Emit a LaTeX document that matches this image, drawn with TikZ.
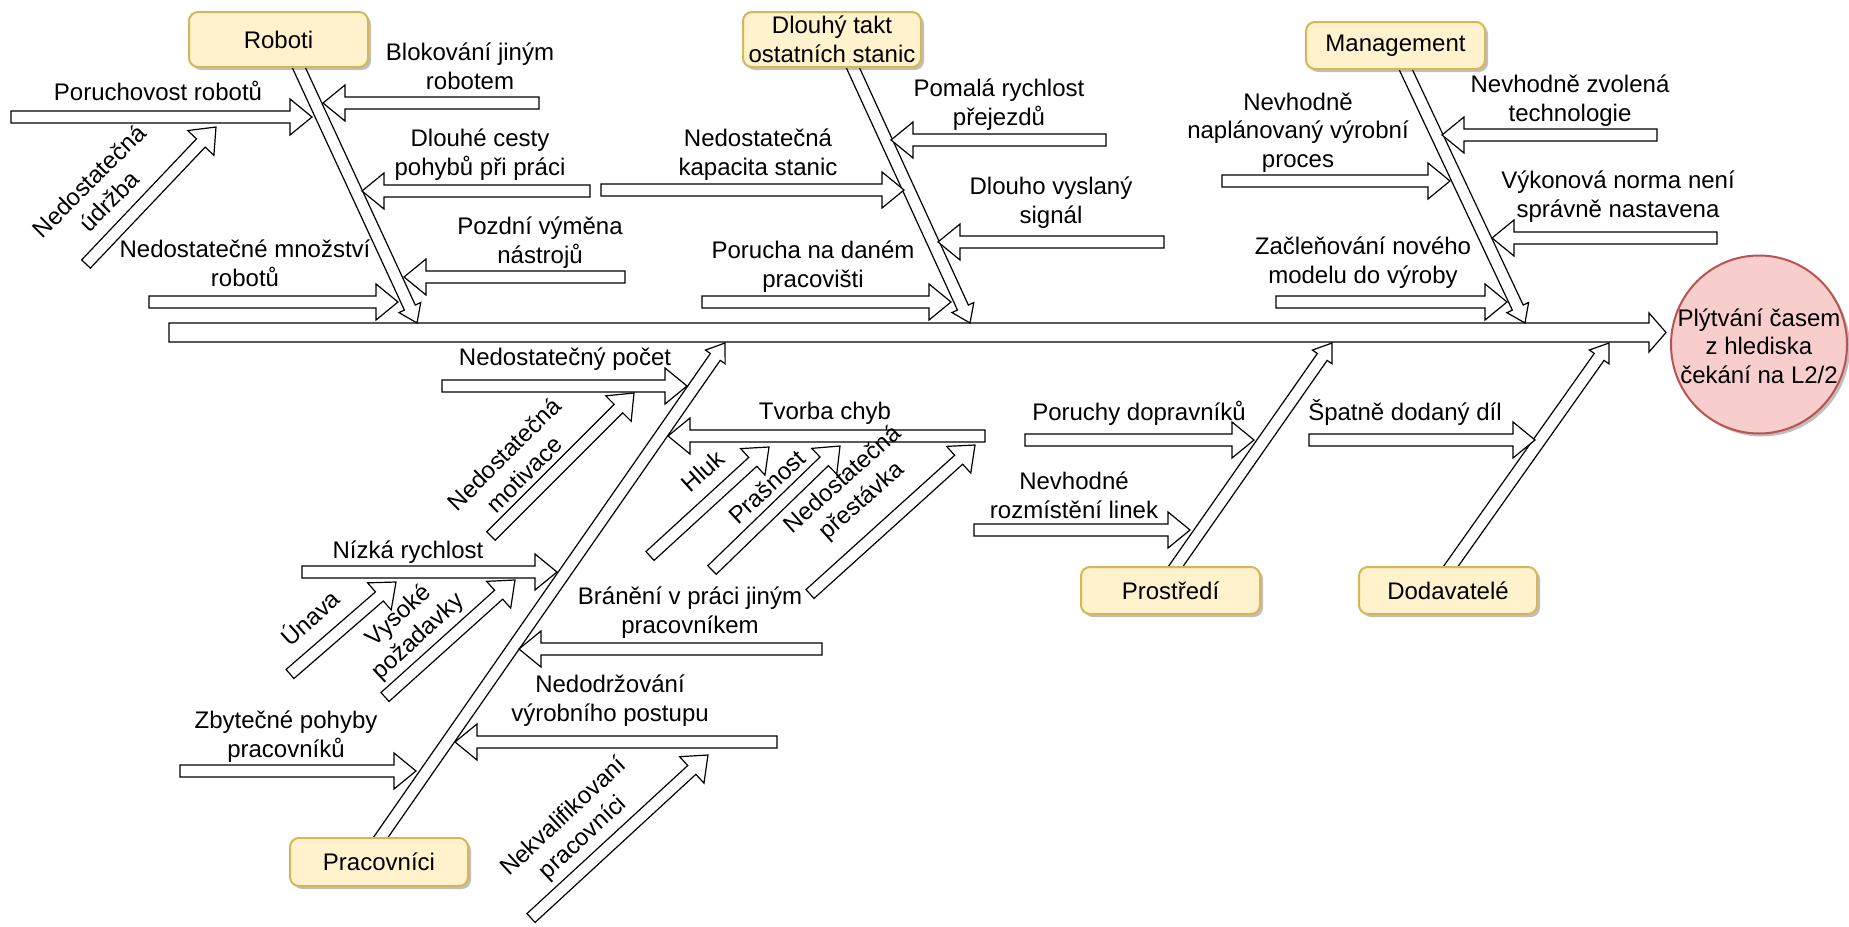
\documentclass[tikz,border=0pt]{standalone}
\usepackage{fontspec}
\setmainfont{Liberation Sans}
\usetikzlibrary{calc,shadows}

\definecolor{catfill}{HTML}{FFF2CC}
\definecolor{catline}{HTML}{D6B656}
\definecolor{effill}{HTML}{F8CECC}
\definecolor{efline}{HTML}{B85450}

\newcommand{\labelfont}{\fontsize{24pt}{28.5pt}\selectfont}

% Hollow block arrow from coordinate #1 to coordinate #2:
% #3 shaft half-width, #4 head half-width, #5 head length (pt)
\newcommand{\blockarrow}[5]{%
  \pgfpointdiff{\pgfpointanchor{#1}{center}}{\pgfpointanchor{#2}{center}}%
  \pgfgetlastxy{\baDX}{\baDY}%
  \pgfmathsetmacro{\baAng}{atan2(\baDY,\baDX)}%
  \pgfmathsetmacro{\baLen}{veclen(\baDX,\baDY)}%
  \pgfmathsetmacro{\baBase}{\baLen-#5}%
  \draw[hollow, shift={(#1)}, rotate=\baAng, x=1pt, y=1pt]
    (0,#3) -- (\baBase,#3) -- (\baBase,#4) -- (\baLen,0)
    -- (\baBase,-#4) -- (\baBase,-#3) -- (0,-#3) -- cycle;
}
\newcommand{\spinearrow}[2]{\blockarrow{#1}{#2}{9.5}{19.5}{17}}
\newcommand{\bonearrow}[2]{\blockarrow{#1}{#2}{6}{12}{17}}
\newcommand{\causearrow}[2]{\blockarrow{#1}{#2}{6}{18}{22}}

\tikzset{
  hollow/.style={draw=black, fill=white, line width=1.2pt, line join=miter},
  boxshadow/.style={drop shadow={shadow xshift=3pt, shadow yshift=-3pt, opacity=0.25, fill=black}},
  category/.style={draw=catline, fill=catfill, line width=2pt, rounded corners=9pt,
    inner sep=0pt, align=center, font=\labelfont, boxshadow},
  lbl/.style={inner sep=0pt, align=center, font=\labelfont, yshift=-2.5pt,
    execute at begin node=\strut, execute at end node=\strut},
  rlbl/.style={inner sep=0pt, align=center, font=\labelfont,
    execute at begin node=\strut, execute at end node=\strut},
}

\begin{document}
\begin{tikzpicture}[x=1pt, y=-1pt]
\fill[white] (0,0) rectangle (1849,926);
\useasboundingbox (0,0) rectangle (1849,926);

% ---------- spine ----------
\coordinate (spS) at (169,332.5);
\coordinate (spE) at (1666,332.5);
\spinearrow{spS}{spE}

% ---------- main bones ----------
\coordinate (rbS) at (296.7,63);   \coordinate (rbE) at (417,323);
\coordinate (tbS) at (850.7,63);   \coordinate (tbE) at (970,323);
\coordinate (mbS) at (1403.6,65);  \coordinate (mbE) at (1525,323);
\coordinate (pbS) at (377.5,842);  \coordinate (pbE) at (725,343);
\coordinate (sbS) at (1172.5,571); \coordinate (sbE) at (1332,343);
\coordinate (dbS) at (1447.5,571); \coordinate (dbE) at (1609,343);
\bonearrow{rbS}{rbE}
\bonearrow{tbS}{tbE}
\bonearrow{mbS}{mbE}
\bonearrow{pbS}{pbE}
\bonearrow{sbS}{sbE}
\bonearrow{dbS}{dbE}

% ---------- Roboti ----------
\coordinate (r1S) at (11,117);   \coordinate (r1E) at (312,117);
\coordinate (r2S) at (539,103);  \coordinate (r2E) at (323,103);
\coordinate (r3S) at (86,264);   \coordinate (r3E) at (216,127);
\coordinate (r4S) at (590,191);  \coordinate (r4E) at (362,191);
\coordinate (r5S) at (625,277);  \coordinate (r5E) at (404,277);
\coordinate (r6S) at (149,302);  \coordinate (r6E) at (398,302);
\causearrow{r1S}{r1E}
\causearrow{r2S}{r2E}
\causearrow{r3S}{r3E}
\causearrow{r4S}{r4E}
\causearrow{r5S}{r5E}
\causearrow{r6S}{r6E}

% ---------- Dlouhý takt ----------
\coordinate (t1S) at (1106,140); \coordinate (t1E) at (891,140);
\coordinate (t2S) at (601,190);  \coordinate (t2E) at (904,190);
\coordinate (t3S) at (1164,242); \coordinate (t3E) at (938,242);
\coordinate (t4S) at (702,302);  \coordinate (t4E) at (951,302);
\causearrow{t1S}{t1E}
\causearrow{t2S}{t2E}
\causearrow{t3S}{t3E}
\causearrow{t4S}{t4E}

% ---------- Management ----------
\coordinate (m1S) at (1657,135); \coordinate (m1E) at (1442,135);
\coordinate (m2S) at (1222,181); \coordinate (m2E) at (1450,181);
\coordinate (m3S) at (1717,238); \coordinate (m3E) at (1492,238);
\coordinate (m4S) at (1276,302); \coordinate (m4E) at (1507,302);
\causearrow{m1S}{m1E}
\causearrow{m2S}{m2E}
\causearrow{m3S}{m3E}
\causearrow{m4S}{m4E}

% ---------- Pracovníci ----------
\coordinate (p1S) at (442,386);  \coordinate (p1E) at (687,386);
\coordinate (p2S) at (491,536);  \coordinate (p2E) at (634,393);
\coordinate (p3S) at (985,436);  \coordinate (p3E) at (668,436);
\coordinate (p4S) at (650,556);  \coordinate (p4E) at (769,447);
\coordinate (p5S) at (712,570);  \coordinate (p5E) at (840,446);
\coordinate (p6S) at (810,594);  \coordinate (p6E) at (975,445);
\coordinate (p7S) at (302,572);  \coordinate (p7E) at (557,572);
\coordinate (p8S) at (290,674);  \coordinate (p8E) at (396,582);
\coordinate (p9S) at (385,697);  \coordinate (p9E) at (515,580);
\coordinate (p10S) at (822,649); \coordinate (p10E) at (519,649);
\coordinate (p11S) at (180,771); \coordinate (p11E) at (416,771);
\coordinate (p12S) at (777,742); \coordinate (p12E) at (455,742);
\coordinate (p13S) at (531,918); \coordinate (p13E) at (708,755);
\causearrow{p1S}{p1E}
\causearrow{p3S}{p3E}
\causearrow{p7S}{p7E}
\causearrow{p10S}{p10E}
\causearrow{p11S}{p11E}
\causearrow{p12S}{p12E}
\causearrow{p2S}{p2E}
\causearrow{p4S}{p4E}
\causearrow{p5S}{p5E}
\causearrow{p6S}{p6E}
\causearrow{p8S}{p8E}
\causearrow{p9S}{p9E}
\causearrow{p13S}{p13E}

% ---------- Prostředí ----------
\coordinate (s1S) at (1025,440); \coordinate (s1E) at (1254,440);
\coordinate (s2S) at (974,530);  \coordinate (s2E) at (1190,530);
\causearrow{s1S}{s1E}
\causearrow{s2S}{s2E}

% ---------- Dodavatelé ----------
\coordinate (d1S) at (1309,440); \coordinate (d1E) at (1535,440);
\causearrow{d1S}{d1E}

% ---------- cause labels ----------
\node[lbl] (lr1) at (158,92)   {Poruchovost robotů};
\node[lbl] (lr2) at (470,68)   {Blokování jiným\\robotem};
\node[lbl] (lr4) at (480,154)  {Dlouhé cesty\\pohybů při práci};
\node[lbl] (lr5) at (540,242)  {Pozdní výměna\\nástrojů};
\node[lbl] (lr6) at (245,265)  {Nedostatečné množství\\robotů};
\node[rlbl, rotate=45] (lr3) at (102,194) {Nedostatečná\\údržba};

\node[lbl] (lt1) at (999,104)  {Pomalá rychlost\\přejezdů};
\node[lbl] (lt2) at (758,154)  {Nedostatečná\\kapacita stanic};
\node[lbl] (lt3) at (1051,202) {Dlouho vyslaný\\signál};
\node[lbl] (lt4) at (813,266)  {Porucha na daném\\pracovišti};

\node[lbl] (lm1) at (1570,100) {Nevhodně zvolená\\technologie};
\node[lbl] (lm2) at (1298,132) {Nevhodně\\naplánovaný výrobní\\proces};
\node[lbl] (lm3) at (1618,196) {Výkonová norma není\\správně nastavena};
\node[lbl] (lm4) at (1363,262) {Začleňování nového\\modelu do výroby};

\node[lbl] (lp1) at (565,357)  {Nedostatečný počet};
\node[lbl] (lp3) at (825,411)  {Tvorba chyb};
\node[lbl] (lp7) at (408,550)  {Nízká rychlost};
\node[lbl] (lp10) at (690,612) {Bránění v práci jiným\\pracovníkem};
\node[lbl] (lp11) at (286,736) {Zbytečné pohyby\\pracovníků};
\node[lbl] (lp12) at (610,700) {Nedodržování\\výrobního postupu};
\node[rlbl, rotate=45] (lp2) at (517,467) {Nedostatečná\\motivace};
\node[rlbl, rotate=42] (lp4) at (705,473) {Hluk};
\node[rlbl, rotate=43] (lp5) at (769,489) {Prašnost};
\node[rlbl, rotate=42] (lp6) at (854,492) {Nedostatečná\\přestávka};
\node[rlbl, rotate=42] (lp8) at (312,620) {Únava};
\node[rlbl, rotate=43] (lp9) at (410,628) {Vysoké\\požadavky};
\node[rlbl, rotate=43] (lp13) at (575,829) {Nekvalifikovaní\\pracovníci};

\node[lbl] (ls1) at (1139,412) {Poruchy dopravníků};
\node[lbl] (ls2) at (1074,497) {Nevhodné\\rozmístění linek};
\node[lbl] (ld1) at (1405,412) {Špatně dodaný díl};

% ---------- category boxes ----------
\node[category, minimum width=179pt, minimum height=55pt] (roboti) at (278.5,39.5) {Roboti};
\node[category, minimum width=178pt, minimum height=55pt] (takt) at (832,39.5) {Dlouhý takt\\ostatních stanic};
\node[category, minimum width=179pt, minimum height=47pt] (management) at (1395.5,45.5) {Management};
\node[category, minimum width=178pt, minimum height=48pt] (pracovnici) at (379,862) {Pracovníci};
\node[category, minimum width=179pt, minimum height=47pt] (prostredi) at (1170.5,590.5) {Prostředí};
\node[category, minimum width=178pt, minimum height=47pt] (dodavatele) at (1448,590.5) {Dodavatelé};

% ---------- effect ----------
\coordinate (efc) at (1759,344.5);
\draw[draw=efline, fill=effill, line width=2pt, boxshadow]
  (efc) ellipse [x radius=88, y radius=89];
\node[lbl] (effect) at (1759,347.5) {Plýtvání časem\\z hlediska\\čekání na L2/2};
\end{tikzpicture}
\end{document}
